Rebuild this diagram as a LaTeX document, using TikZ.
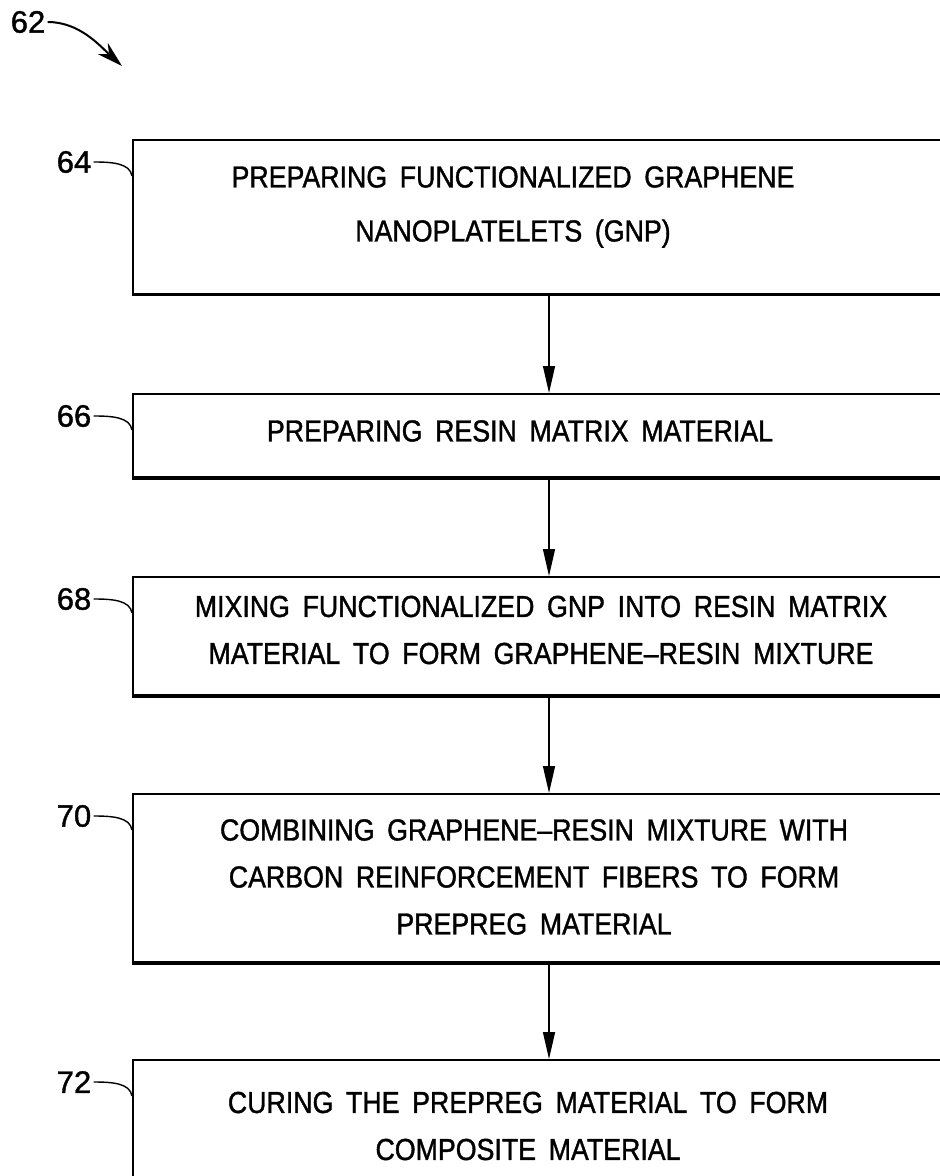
\documentclass[tikz,border=0pt]{standalone}
\usepackage{fontspec}
\setmainfont{Liberation Sans}[WordSpace=1.6, FakeBold=1.2]
\newfontfamily\stepfont{Liberation Sans}[Ligatures=TeX, WordSpace=1.7, FakeStretch=0.88, FakeBold=1.2]
\usetikzlibrary{arrows.meta,calc}

\tikzset{
  stepbox/.style={draw, line width=0.85pt, anchor=north west, inner sep=0pt, minimum width=434pt},
  steptext/.style={align=center, inner sep=0pt, font=\stepfont\fontsize{15.2}{23.5}\selectfont},
  reflabel/.style={inner sep=1pt, font=\fontsize{15.5}{15.5}\selectfont},
  leader/.style={line width=0.7pt},
  shadowedge/.style={line width=1.8pt},
  flow/.style={line width=0.7pt, -{Triangle[length=13.5pt,width=6pt]}},
  pointer/.style={line width=1pt, -{Stealth[length=13pt,width=7.5pt]}}
}

\begin{document}
\begin{tikzpicture}[x=0.5pt, y=-0.5pt]
    \useasboundingbox (0,0) rectangle (940,1176);

    % steps
    \node[stepbox, minimum height=77pt] (box64) at (132,139) {};
    \node[stepbox, minimum height=41.5pt] (box66) at (132,393) {};
    \node[stepbox, minimum height=59pt] (box68) at (132,576) {};
    \node[stepbox, minimum height=84pt] (box70) at (132,793) {};
    \node[stepbox, minimum height=100pt] (box72) at (132,1059) {};

    \node[steptext, font=\stepfont\fontsize{15.2}{27}\selectfont] (t64) at (513,207) {PREPARING FUNCTIONALIZED GRAPHENE\\NANOPLATELETS (GNP)};
    \node[steptext] (t66) at (520,431) {PREPARING RESIN MATRIX MATERIAL};
    \node[steptext] (t68) at (541,630) {MIXING FUNCTIONALIZED GNP INTO RESIN MATRIX\\MATERIAL TO FORM GRAPHENE--RESIN MIXTURE};
    \node[steptext] (t70) at (534,877) {COMBINING GRAPHENE--RESIN MIXTURE WITH\\CARBON REINFORCEMENT FIBERS TO FORM\\PREPREG MATERIAL};
    \node[steptext] (t72) at (528,1126) {CURING THE PREPREG MATERIAL TO FORM\\COMPOSITE MATERIAL};

    \foreach \n in {64,66,68,70} {
        \draw[shadowedge] (box\n.south west) -- (box\n.south east);
    }

    % flow arrows
    \coordinate (arrx) at (549,0);
    \foreach \a/\b in {64/66, 66/68, 68/70, 70/72} {
        \draw[flow] (box\a.south -| arrx) -- (box\b.north -| arrx);
    }

    % reference numerals
    \foreach \n in {64,66,68,70,72} {
        \node[reflabel] (l\n) at ($(box\n.north west)+(-58,23)$) {\n};
        \draw[leader] (l\n.east) .. controls +(18,0) and +(-2,-13) .. ($(box\n.north west)+(0,37)$);
    }

    \node[reflabel] (l62) at (28,22) {62};
    \coordinate (p62) at (122,66);
    \draw[pointer] (l62.east) .. controls +(32,0) and +(-22,-20) .. (p62);
\end{tikzpicture}
\end{document}
